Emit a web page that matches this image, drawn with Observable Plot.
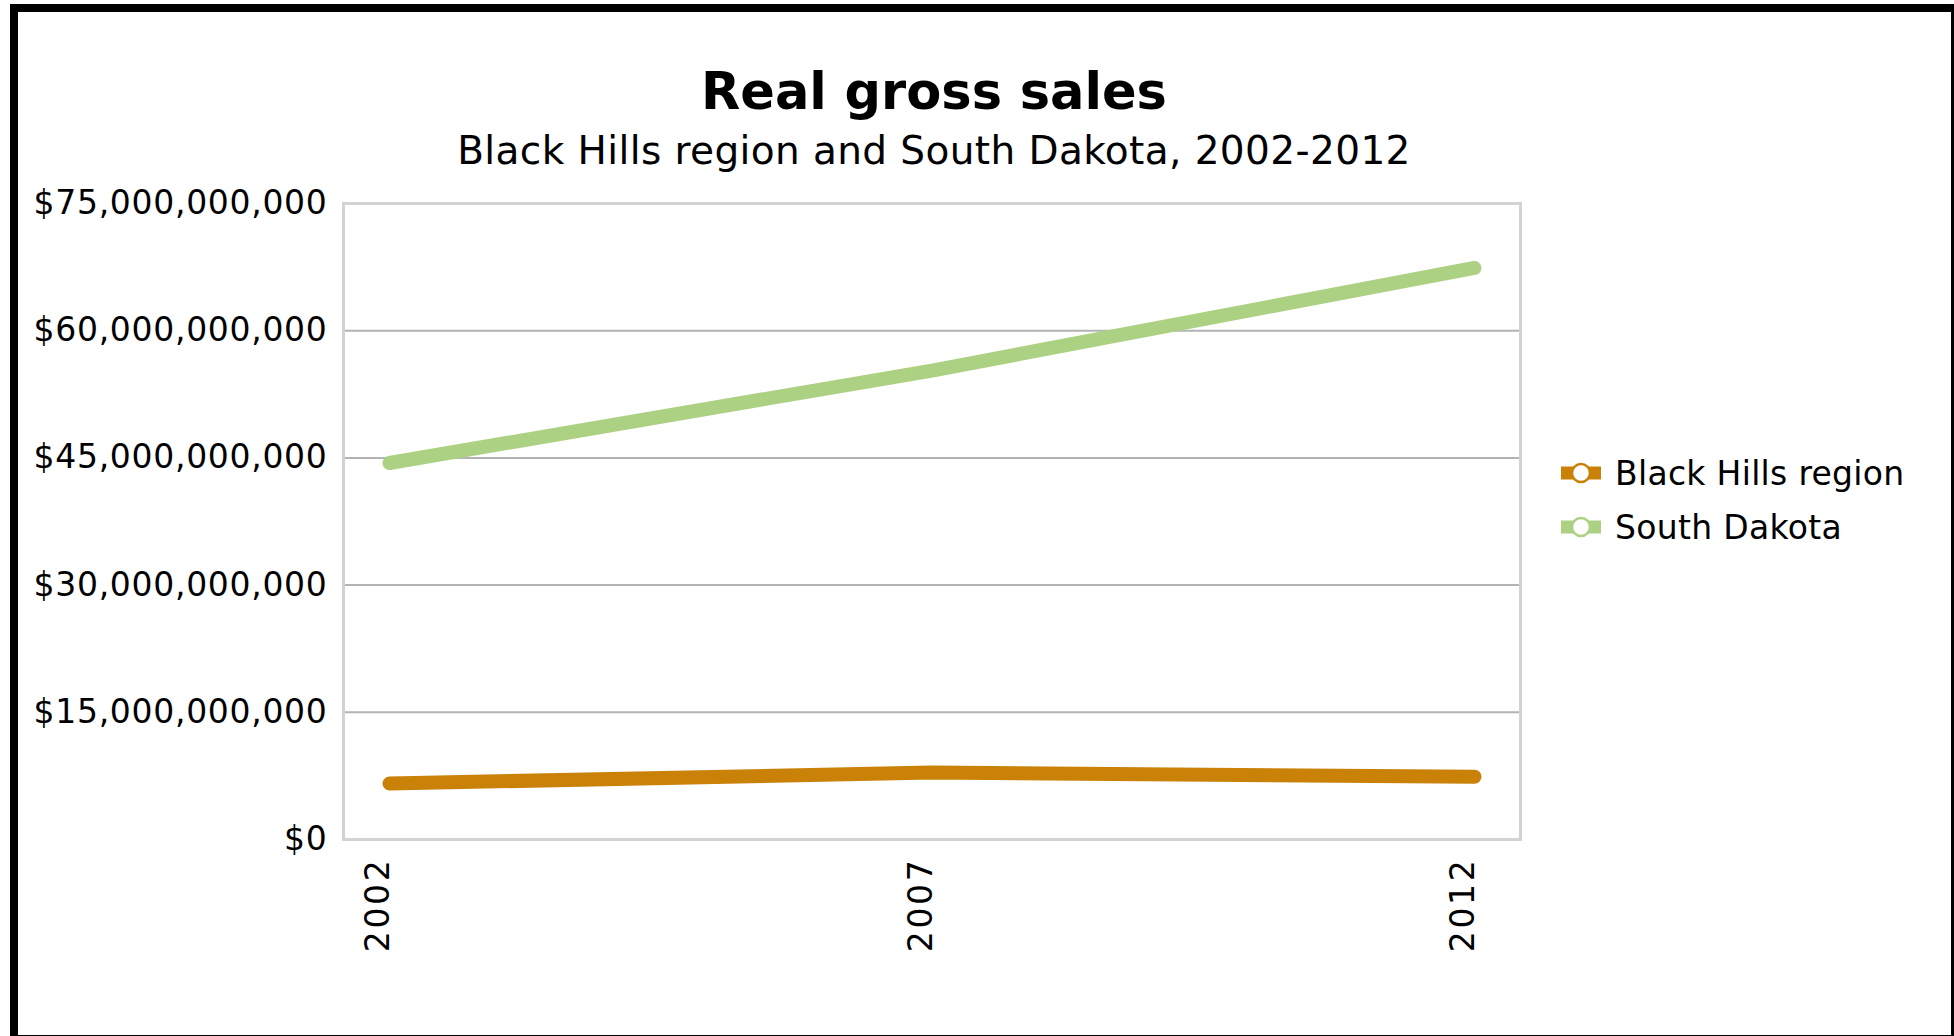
<!DOCTYPE html>
<html>
<head>
<meta charset="utf-8">
<script src="https://cdn.jsdelivr.net/npm/d3@7"></script>
<script src="https://cdn.jsdelivr.net/npm/@observablehq/plot@0.6"></script>
<style>
  html, body { margin: 0; padding: 0; background: #fff; overflow: hidden; }
  body { width: 1954px; height: 1036px; position: relative; font-family: "DejaVu Sans", sans-serif; }
  #border { position: absolute; left: 10px; top: 4px; width: 1933px; height: 1023px; border: 8px solid #000; box-sizing: content-box; }
  #chart { position: absolute; left: 0; top: 0; }
  .title { position: absolute; left: 0; width: 1868px; text-align: center; line-height: 1; color: #000; white-space: nowrap; }
  #t1 { top: 66px; font-size: 51px; font-weight: bold; }
  #t2 { top: 131px; font-size: 39px; letter-spacing: 0.4px; }
  .leg { position: absolute; left: 1561px; font-size: 33px; line-height: 1; display: flex; align-items: center; white-space: nowrap; letter-spacing: 0.3px; }
  .leg svg { margin-right: 14px; }
  #chart g[aria-label="y-axis tick label"] text { letter-spacing: 0.7px; }
  #chart g[aria-label="x-axis tick label"] text { letter-spacing: 2.7px; }
</style>
</head>
<body>
<div id="chart"></div>
<div id="border"></div>
<div class="title" id="t1">Real gross sales</div>
<div class="title" id="t2">Black Hills region and South Dakota, 2002-2012</div>
<div id="legend"></div>
<script>
const years = [2002, 2007, 2012];
const seriesNames = ["Black Hills region", "South Dakota"];
const blackHills = [6.6e9, 7.9e9, 7.4e9];
const southDakota = [44.4e9, 55.3e9, 67.4e9];
const yTicks = [0, 15e9, 30e9, 45e9, 60e9, 75e9];
const colors = ["#c98108", "#add183"];

const data = [];
years.forEach((yr, i) => {
  data.push({year: yr, value: blackHills[i], series: seriesNames[0]});
  data.push({year: yr, value: southDakota[i], series: seriesNames[1]});
});

const W = 1954, H = 1036;
const plot = Plot.plot({
  width: W,
  height: H,
  marginTop: 203,
  marginBottom: H - 839,
  marginLeft: 343,
  marginRight: W - 1520,
  insetLeft: 46,
  insetRight: 46,
  style: { fontFamily: "DejaVu Sans, sans-serif", background: "transparent", color: "#000" },
  x: { domain: [2002, 2012], ticks: years },
  y: { domain: [0, 75e9] },
  color: { domain: seriesNames, range: colors },
  marks: [
    Plot.ruleY(yTicks.slice(1, -1), { stroke: "#b3b3b3", strokeWidth: 2 }),
    Plot.frame({ stroke: "#d3d3d3", strokeWidth: 3 }),
    Plot.axisY(yTicks, {
      tickSize: 0, tickPadding: 16, fontSize: 33,
      tickFormat: d3.format("$,"), label: null, fill: "#000"
    }),
    Plot.axisX(years, {
      tickSize: 0, tickRotate: -90, tickPadding: 18, fontSize: 33,
      tickFormat: d => String(d), label: null, fill: "#000", dx: -11
    }),
    Plot.line(data, {
      x: "year", y: "value", z: "series", stroke: "series",
      strokeWidth: 14, strokeLinecap: "round", strokeLinejoin: "round"
    })
  ]
});
document.getElementById("chart").appendChild(plot);

// legend
const legend = document.getElementById("legend");
seriesNames.forEach((name, i) => {
  const div = document.createElement("div");
  div.className = "leg";
  div.style.top = (455 + i * 54) + "px";
  div.innerHTML = `<svg width="40" height="36" viewBox="0 0 40 36">
    <line x1="0" y1="18" x2="40" y2="18" stroke="${colors[i]}" stroke-width="13"/>
    <circle cx="20" cy="18" r="9" fill="#fff" stroke="${colors[i]}" stroke-width="2.5"/>
  </svg><span>${name}</span>`;
  legend.appendChild(div);
});
</script>
</body>
</html>
